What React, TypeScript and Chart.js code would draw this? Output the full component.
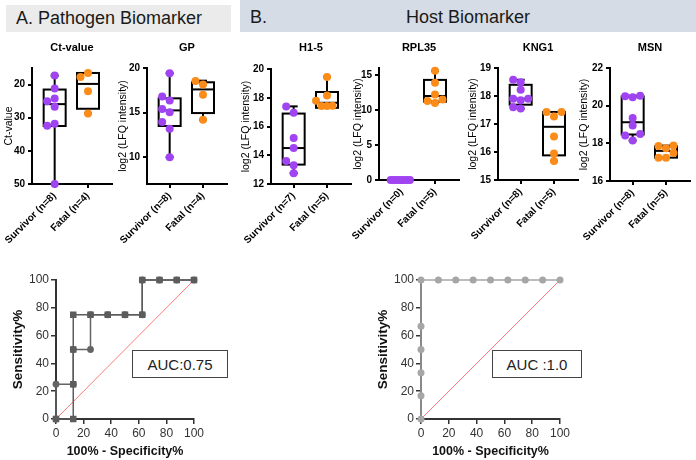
import React, { useEffect, useRef } from "react";
import { Chart, registerables } from "chart.js";
Chart.register(...registerables);

const FONT = '"Liberation Sans", Arial, Helvetica, sans-serif';
Chart.defaults.font.family = FONT;

// ---------------- data ----------------
// box stats are [min, q1, median, q3, max]
const ctLabels = ["Survivor (n=8)", "Fatal (n=4)"];
const ctTicks = [20, 30, 40, 50];
const ctSurvivor = [17.3, 21.2, 24.2, 25.0, 26.7, 31.8, 32.4, 50.0];
const ctFatal = [16.5, 17.7, 22.0, 28.7];
const ctBoxSurvivor = [17.3, 21.5, 25.9, 32.5, 50.0];
const ctBoxFatal = [16.5, 16.5, 19.8, 27.3, 28.7];

const gpLabels = ["Survivor (n=8)", "Fatal (n=4)"];
const gpTicks = [10, 15, 20];
const gpSurvivor = [19.4, 16.8, 16.35, 15.4, 15.05, 13.95, 13.2, 10.0];
const gpFatal = [18.55, 18.15, 17.0, 14.2];
const gpBoxSurvivor = [10.0, 13.5, 15.25, 16.6, 19.4];
const gpBoxFatal = [14.2, 14.95, 17.6, 18.4, 18.58];

const h15Labels = ["Survivor (n=7)", "Fatal (n=5)"];
const h15Ticks = [12, 14, 16, 18, 20];
const h15Survivor = [17.4, 16.95, 15.2, 14.5, 13.6, 13.3, 12.75];
const h15Fatal = [19.45, 18.15, 17.8, 17.45, 17.42, 17.42];
const h15BoxSurvivor = [12.75, 13.35, 14.5, 16.9, 17.4];
const h15BoxFatal = [17.3, 17.3, 17.65, 18.4, 19.45];

const rplLabels = ["Survivor (n=0)", "Fatal (n=5)"];
const rplTicks = [0, 5, 10, 15];
const rplSurvivor = [0, 0, 0, 0, 0, 0, 0, 0];
const rplFatal = [15.6, 13.9, 12.2, 11.5, 11.3, 11.0];
const rplBoxSurvivor = null;
const rplBoxFatal = [11.0, 11.2, 12.0, 14.3, 15.6];

const kngLabels = ["Survivor (n=8)", "Fatal (n=5)"];
const kngTicks = [15, 16, 17, 18, 19];
const kngSurvivor = [18.58, 18.49, 18.22, 17.9, 17.9, 17.85, 17.6, 17.55];
const kngFatal = [17.43, 17.43, 17.27, 16.55, 15.95, 15.68];
const kngBoxSurvivor = [17.55, 17.69, 17.9, 18.4, 18.58];
const kngBoxFatal = [15.68, 15.88, 16.9, 17.43, 17.43];

const msnLabels = ["Survivor (n=8)", "Fatal (n=5)"];
const msnTicks = [16, 18, 20, 22];
const msnSurvivor = [20.53, 20.5, 20.45, 19.34, 18.95, 18.49, 18.42, 18.15];
const msnFatal = [17.88, 17.86, 17.74, 17.49, 17.24, 17.24];
const msnBoxSurvivor = [18.15, 18.47, 19.12, 20.49, 20.53];
const msnBoxFatal = [17.24, 17.24, 17.6, 17.84, 17.88];

// ROC curves (x = 100% - Specificity%, y = Sensitivity%)
const rocPathCircleX = [0, 0, 12.5, 12.5, 25, 25, 37.5, 50, 62.5, 62.5, 75, 87.5, 100];
const rocPathCircleY = [0, 25, 25, 50, 50, 75, 75, 75, 75, 100, 100, 100, 100];
const rocPathSquareX = [0, 12.5, 12.5, 12.5, 12.5, 25, 37.5, 50, 62.5, 62.5, 75, 87.5, 100];
const rocPathSquareY = [0, 0, 25, 50, 75, 75, 75, 75, 75, 100, 100, 100, 100];
const rocHostX = [0, 0, 0, 0, 0, 0, 12.5, 25, 37.5, 50, 62.5, 75, 87.5, 100];
const rocHostY = [0, 16.7, 33.3, 50, 66.7, 100, 100, 100, 100, 100, 100, 100, 100, 100];
const rocDiagX = [0, 100];
const rocDiagY = [0, 100];
const rocTicks = [0, 20, 40, 60, 80, 100];

// ---------------- styles / layout ----------------
const PURPLE = "#a044f2";
const ORANGE = "#fb8c1a";
const DIAG = "#ff7a7a";
const XMIN = -0.68;
const XMAX = 1.72;

function swarm(values: number[], pxPerY: number, pxPerX: number): number[] {
  const step = 7.5, minD = 7, maxHalf = 11;
  const order = values.map((_, i) => i).sort((a, b) => values[a] - values[b]);
  const placed: { x: number; y: number }[] = [];
  const off = new Array(values.length).fill(0);
  for (const i of order) {
    const py = values[i] * pxPerY;
    const cands = [0];
    for (let k = 1; k < 12; k++) cands.push(-k * step, k * step);
    for (const c of cands) {
      if (placed.every((p) => Math.hypot(p.x - c, p.y - py) >= minD)) {
        off[i] = c;
        placed.push({ x: c, y: py });
        break;
      }
    }
  }
  const mx = Math.max(...off.map((o) => Math.abs(o)));
  const s = mx > maxHalf ? maxHalf / mx : 1;
  return off.map((o) => (o * s) / pxPerX);
}

function makeBoxPlugin(boxes: (number[] | null)[]) {
  return {
    id: "boxes",
    beforeDatasetsDraw(chart: any) {
      const x = chart.scales.x, y = chart.scales.y, ctx = chart.ctx;
      ctx.save();
      ctx.strokeStyle = "#000";
      ctx.lineWidth = 2;
      ctx.lineCap = "butt";
      const hw = 11, cw = 4;
      const ln = (x1: number, y1: number, x2: number, y2: number) => {
        ctx.beginPath();
        ctx.moveTo(x1, y1);
        ctx.lineTo(x2, y2);
        ctx.stroke();
      };
      boxes.forEach((b, i) => {
        if (!b) return;
        const cx = x.getPixelForValue(i);
        const [mn, q1, md, q3, mx] = b.map((v) => y.getPixelForValue(v));
        if (Math.abs(mn - q1) > 0.5) { ln(cx, mn, cx, q1); ln(cx - cw, mn, cx + cw, mn); }
        if (Math.abs(mx - q3) > 0.5) { ln(cx, q3, cx, mx); ln(cx - cw, mx, cx + cw, mx); }
        ctx.strokeRect(cx - hw, Math.min(q1, q3), hw * 2, Math.abs(q3 - q1));
        ln(cx - hw, md, cx + hw, md);
      });
      ctx.restore();
    },
  };
}

// chance line drawn through the chart's own scales, beneath the ROC curves
const diagPlugin = {
  id: "diag",
  beforeDatasetsDraw(chart: any) {
    const x = chart.scales.x, y = chart.scales.y, ctx = chart.ctx;
    ctx.save();
    ctx.strokeStyle = DIAG;
    ctx.lineWidth = 1;
    ctx.beginPath();
    rocDiagX.forEach((xv, i) => {
      const px = x.getPixelForValue(xv), py = y.getPixelForValue(rocDiagY[i]);
      if (i === 0) ctx.moveTo(px, py); else ctx.lineTo(px, py);
    });
    ctx.stroke();
    ctx.restore();
  },
};

const zeroPad = (s: any) => { s.paddingLeft = 0; s.paddingRight = 0; s.paddingTop = 0; s.paddingBottom = 0; };

type BoxSpec = {
  title: string; yTitle: string; L: number; R: number; T: number; B: number; ycx: number;
  min: number; max: number; reverse?: boolean; ticks: number[]; labels: string[];
  surv: number[]; fatal: number[]; boxS: number[] | null; boxF: number[] | null;
};

const boxPanels: BoxSpec[] = [
  { title: "Ct-value", yTitle: "Ct-value", L: 32, R: 112, T: 68, B: 184, ycx: 9, min: 15, max: 50, reverse: true,
    ticks: ctTicks, labels: ctLabels, surv: ctSurvivor, fatal: ctFatal, boxS: ctBoxSurvivor, boxF: ctBoxFatal },
  { title: "GP", yTitle: "log2 (LFQ intensity)", L: 147, R: 227, T: 68, B: 184, ycx: 123, min: 7, max: 20,
    ticks: gpTicks, labels: gpLabels, surv: gpSurvivor, fatal: gpFatal, boxS: gpBoxSurvivor, boxF: gpBoxFatal },
  { title: "H1-5", yTitle: "log2 (LFQ intensity)", L: 271, R: 351, T: 69, B: 184, ycx: 246, min: 12, max: 20,
    ticks: h15Ticks, labels: h15Labels, surv: h15Survivor, fatal: h15Fatal, boxS: h15BoxSurvivor, boxF: h15BoxFatal },
  { title: "RPL35", yTitle: "log2 (LFQ intensity)", L: 379, R: 459, T: 68, B: 180, ycx: 358, min: 0, max: 16,
    ticks: rplTicks, labels: rplLabels, surv: rplSurvivor, fatal: rplFatal, boxS: rplBoxSurvivor, boxF: rplBoxFatal },
  { title: "KNG1", yTitle: "log2 (LFQ intensity)", L: 498, R: 578, T: 68, B: 180, ycx: 473, min: 15, max: 19,
    ticks: kngTicks, labels: kngLabels, surv: kngSurvivor, fatal: kngFatal, boxS: kngBoxSurvivor, boxF: kngBoxFatal },
  { title: "MSN", yTitle: "log2 (LFQ intensity)", L: 610, R: 690, T: 68, B: 181, ycx: 584, min: 16, max: 22,
    ticks: msnTicks, labels: msnLabels, surv: msnSurvivor, fatal: msnFatal, boxS: msnBoxSurvivor, boxF: msnBoxFatal },
];

const Y_TITLE_SIZE = 10.5;
const TITLE_SIZE = 11;

function BoxPanel({ p }: { p: BoxSpec }) {
  const ref = useRef<HTMLCanvasElement>(null);
  const half = (Y_TITLE_SIZE * 1.2) / 2;
  const cl = Math.floor(p.ycx - half);
  const ct = 36;
  const cr = p.R + 6;
  const cb = 258;
  useEffect(() => {
    const pxY = (p.B - p.T) / (p.max - p.min);
    const pxX = (p.R - p.L) / (XMAX - XMIN);
    const offS = swarm(p.surv, pxY, pxX);
    const offF = swarm(p.fatal, pxY, pxX);
    const tLH = TITLE_SIZE * 1.2;
    const padTop = 48 - ct - tLH / 2;
    const padBottom = p.T - ct - padTop - tLH;
    const axisGrid = { display: true, drawOnChartArea: false, drawTicks: true, tickLength: 4, color: "#000", lineWidth: 2 };
    const chart = new Chart(ref.current!, {
      type: "scatter",
      data: {
        datasets: [
          { data: p.surv.map((v, i) => ({ x: 0 + offS[i], y: v })), backgroundColor: PURPLE, borderColor: PURPLE,
            pointRadius: 4, pointHoverRadius: 4, borderWidth: 0, clip: false } as any,
          { data: p.fatal.map((v, i) => ({ x: 1 + offF[i], y: v })), backgroundColor: ORANGE, borderColor: ORANGE,
            pointRadius: 4, pointHoverRadius: 4, borderWidth: 0, clip: false } as any,
        ],
      },
      options: {
        animation: false,
        responsive: false,
        events: [],
        layout: { padding: { left: 0, top: 0, right: cr - p.R, bottom: 0 } },
        plugins: {
          legend: { display: false },
          tooltip: { enabled: false },
          title: { display: true, text: p.title, fullSize: false, color: "#000",
            font: { size: TITLE_SIZE, weight: "bold" }, padding: { top: padTop, bottom: padBottom } },
        },
        scales: {
          x: {
            type: "linear", min: XMIN, max: XMAX,
            afterBuildTicks: (s: any) => { s.ticks = [{ value: 0 }, { value: 1 }]; },
            afterFit: (s: any) => { s.height = cb - p.B; zeroPad(s); },
            ticks: { callback: (v: any) => p.labels[v] ?? "", autoSkip: false, minRotation: 45, maxRotation: 45,
              color: "#000", font: { size: 10, weight: "bold" }, padding: 2 },
            grid: axisGrid as any,
            border: { display: true, color: "#000", width: 2 },
          },
          y: {
            type: "linear", min: p.min, max: p.max, reverse: !!p.reverse,
            afterBuildTicks: (s: any) => { s.ticks = p.ticks.map((v) => ({ value: v })); },
            afterFit: (s: any) => { s.width = p.L - cl; zeroPad(s); },
            ticks: { color: "#000", font: { size: 10, weight: "bold" }, padding: 3 },
            grid: axisGrid as any,
            border: { display: true, color: "#000", width: 2 },
            title: { display: true, text: p.yTitle, color: "#000", font: { size: Y_TITLE_SIZE },
              padding: { top: p.ycx - half - cl, bottom: 0 } },
          },
        },
      } as any,
      plugins: [makeBoxPlugin([p.boxS, p.boxF])],
    });
    return () => chart.destroy();
  }, []);
  return (
    <canvas ref={ref} width={cr - cl} height={cb - ct}
      style={{ position: "absolute", left: cl, top: ct, width: cr - cl, height: cb - ct }} />
  );
}

type RocSpec = {
  L: number; R: number; T: number; B: number; ycx: number;
  series: { x: number[]; y: number[]; color: string; style: string; radius: number }[];
};

const rocPanels: RocSpec[] = [
  { L: 56, R: 194, T: 280, B: 419, ycx: 18, series: [
    { x: rocPathSquareX, y: rocPathSquareY, color: "#5c5c5c", style: "rect", radius: 4.6 },
    { x: rocPathCircleX, y: rocPathCircleY, color: "#646464", style: "circle", radius: 3.4 },
  ] },
  { L: 421, R: 560, T: 280, B: 419, ycx: 383, series: [
    { x: rocHostX, y: rocHostY, color: "#a6a6a6", style: "circle", radius: 3.5 },
  ] },
];

const ROC_YT = 13.5;
const ROC_XT = 12.5;

function RocPanel({ p }: { p: RocSpec }) {
  const ref = useRef<HTMLCanvasElement>(null);
  const half = (ROC_YT * 1.2) / 2;
  const cl = Math.floor(p.ycx - half);
  const ct = 270;
  const cr = p.R + 16;
  const cb = 460;
  useEffect(() => {
    const grid = { display: true, drawOnChartArea: false, drawTicks: true, tickLength: 5, color: "#333", lineWidth: 1.5 };
    const datasets: any[] = p.series.map((s) => ({
      data: s.x.map((xv, i) => ({ x: xv, y: s.y[i] })),
      showLine: true, borderColor: s.color, borderWidth: 1.5, backgroundColor: s.color,
      pointStyle: s.style, pointRadius: s.radius, pointHoverRadius: s.radius, pointBorderWidth: 0,
      tension: 0, clip: false,
    }));
    const chart = new Chart(ref.current!, {
      type: "scatter",
      data: { datasets },
      options: {
        animation: false,
        responsive: false,
        events: [],
        layout: { padding: { left: 0, top: p.T - ct, right: cr - p.R, bottom: 0 } },
        plugins: { legend: { display: false }, tooltip: { enabled: false } },
        scales: {
          x: {
            type: "linear", min: 0, max: 100,
            afterBuildTicks: (s: any) => { s.ticks = rocTicks.map((v) => ({ value: v })); },
            afterFit: (s: any) => { s.height = cb - p.B; zeroPad(s); },
            ticks: { color: "#333", font: { size: 12 }, padding: 2, maxRotation: 0 },
            grid: grid as any,
            border: { display: true, color: "#333", width: 2 },
            title: { display: true, text: "100% - Specificity%", color: "#111",
              font: { size: ROC_XT, weight: "bold" }, padding: { top: 0, bottom: cb - 452 - (ROC_XT * 1.2) / 2 } },
          },
          y: {
            type: "linear", min: 0, max: 100,
            afterBuildTicks: (s: any) => { s.ticks = rocTicks.map((v) => ({ value: v })); },
            afterFit: (s: any) => { s.width = p.L - cl; zeroPad(s); },
            ticks: { color: "#333", font: { size: 12 }, padding: 2 },
            grid: grid as any,
            border: { display: true, color: "#333", width: 2 },
            title: { display: true, text: "Sensitivity%", color: "#111",
              font: { size: ROC_YT, weight: "bold" }, padding: { top: p.ycx - half - cl, bottom: 0 } },
          },
        },
      } as any,
      plugins: [diagPlugin],
    });
    return () => chart.destroy();
  }, []);
  return (
    <canvas ref={ref} width={cr - cl} height={cb - ct}
      style={{ position: "absolute", left: cl, top: ct, width: cr - cl, height: cb - ct }} />
  );
}

const aucBoxes = [
  { text: "AUC:0.75", left: 132, top: 350, width: 96, height: 28 },
  { text: "AUC :1.0", left: 492, top: 350, width: 90, height: 28 },
];

export default function App() {
  return (
    <div style={{ position: "fixed", left: 0, top: 0, width: 696, height: 460, overflow: "hidden",
      background: "#fff", fontFamily: FONT }}>
      <div style={{ position: "absolute", left: 6, top: 5, width: 225, height: 27, background: "#ebebeb",
        fontSize: 18, lineHeight: "27px", color: "#1a1a1a", paddingLeft: 10, boxSizing: "border-box" }}>
        A. Pathogen Biomarker
      </div>
      <div style={{ position: "absolute", left: 240, top: 0, width: 456, height: 32, background: "#d6dce5",
        fontSize: 18, lineHeight: "34px", color: "#1a1a1a" }}>
        <span style={{ position: "absolute", left: 10 }}>B.</span>
        <span style={{ position: "absolute", left: 166 }}>Host Biomarker</span>
      </div>
      {boxPanels.map((p, i) => <BoxPanel key={i} p={p} />)}
      {rocPanels.map((p, i) => <RocPanel key={i} p={p} />)}
      {aucBoxes.map((b, i) => (
        <div key={i} style={{ position: "absolute", left: b.left, top: b.top, width: b.width, height: b.height,
          border: "1px solid #444", background: "#fff", boxSizing: "border-box", display: "flex",
          alignItems: "center", justifyContent: "center", fontSize: 15, color: "#222" }}>
          {b.text}
        </div>
      ))}
    </div>
  );
}
